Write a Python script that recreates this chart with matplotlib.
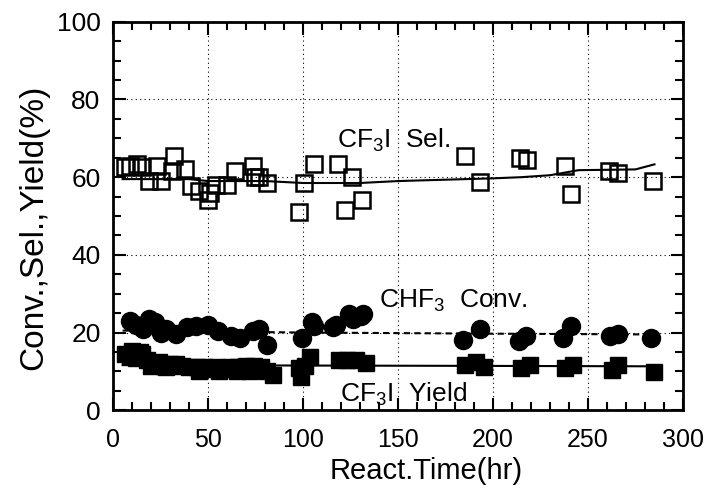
import matplotlib
matplotlib.use("Agg")
import matplotlib.pyplot as plt
from matplotlib.ticker import MultipleLocator

plt.rcParams['font.family'] = ['Liberation Sans', 'DejaVu Sans']
plt.rcParams['mathtext.fontset'] = 'custom'
plt.rcParams['mathtext.rm'] = 'Liberation Sans'
plt.rcParams['mathtext.it'] = 'Liberation Sans'

# CF3I selectivity (open squares)
sel_t = [6, 9, 12.4, 15, 19, 23, 25, 31, 32, 38, 41, 45, 50, 51, 54, 60, 64, 73.5, 74.5, 77, 81,
         98, 100.5, 105.6, 118.6, 122, 126, 131, 185, 193, 214, 218, 238, 241, 261, 266, 284]
sel_v = [62.5, 63, 63.4, 62.5, 59, 63, 59, 61.5, 65.5, 62, 57.7, 56.5, 54, 56, 58, 58, 61.5, 63, 60, 60, 58.5,
         51, 58.5, 63.5, 63.5, 51.5, 60, 54, 65.5, 58.7, 65, 64.5, 63, 55.6, 61.5, 61, 59]
sel_line_t = [5, 40, 50, 80, 100, 130, 150, 200, 215, 230, 245, 275, 285]
sel_line_v = [59.5, 59.5, 59, 59, 58.5, 58.5, 59, 59.7, 60, 60.5, 61.8, 62, 63.3]

# CHF3 conversion (filled circles)
conv_t = [8.8, 12, 15.5, 19, 22, 25, 28, 33, 39, 43.5, 50, 55, 62, 67, 73.5, 77, 81,
          99.5, 104.7, 105.7, 116, 117.6, 124, 126.4, 130.6, 131.6,
          184, 193, 213.5, 217.6, 237, 241, 261.7, 266, 283.4]
conv_v = [22.9, 22, 20.8, 23.4, 22.6, 20, 21, 19.5, 21.3, 21.6, 22, 20.3, 19, 18.7, 20.3, 21, 16.9,
          18.7, 22.6, 21.6, 21.3, 22, 24.7, 23.4, 24.2, 24.7,
          18, 20.8, 17.7, 19, 18.7, 21.6, 19, 19.5, 18.7]
conv_line_t = [5, 100, 200, 285]
conv_line_v = [20.5, 20, 19.7, 19.5]

# CF3I yield (filled squares)
yld_t = [6, 9, 10, 12, 14, 15, 18, 20, 21, 24, 27, 28, 30, 33, 36, 40, 44, 45, 48, 51, 54, 56, 58, 62,
         65, 66, 70, 72, 74, 78, 81, 84,
         98, 99, 101, 103.6, 119, 123, 128, 133, 185, 191, 195,
         214.5, 219.7, 238, 242, 262.7, 266, 285]
yld_v = [14.5, 14, 15.3, 13.5, 15, 14.5, 13, 11.5, 12, 12.5, 11.5, 11, 12, 12, 11.5, 11, 11, 10, 11, 10.5, 11, 10, 10.5, 11,
         10, 11, 11.5, 10, 11.5, 11, 10, 9,
         10.9, 8.6, 11.5, 13.8, 13, 13, 13, 12.2, 11.7, 12.5, 11.2,
         10.9, 11.7, 10.9, 11.7, 10.4, 11.7, 9.9]
yld_line_t = [5, 100, 200, 285]
yld_line_v = [11.6, 11.5, 11.4, 11.3]

fig = plt.figure(figsize=(7.07, 4.96), dpi=100)
ax = fig.add_axes([0.160, 0.173, 0.806, 0.783])

ax.plot(sel_line_t, sel_line_v, color='black', lw=1.5, zorder=2)
ax.plot(conv_line_t, conv_line_v, color='black', lw=1.5, ls=(0, (3, 2)), zorder=2)
ax.plot(yld_line_t, yld_line_v, color='black', lw=1.5, zorder=2)

ax.plot(sel_t, sel_v, ls='none', marker='s', ms=12, mfc='none', mec='black', mew=1.8, zorder=3)
ax.plot(conv_t, conv_v, ls='none', marker='o', ms=13, mfc='black', mec='black', zorder=3)
ax.plot(yld_t, yld_v, ls='none', marker='s', ms=12, mfc='black', mec='black', zorder=3)

ax.set_xlim(0, 300)
ax.set_ylim(0, 100)
ax.xaxis.set_major_locator(MultipleLocator(50))
ax.xaxis.set_minor_locator(MultipleLocator(10))
ax.yaxis.set_major_locator(MultipleLocator(20))
ax.yaxis.set_minor_locator(MultipleLocator(5))
ax.tick_params(which='both', direction='in', top=True, right=True, width=1.5, colors='black')
ax.tick_params(which='major', length=9)
ax.tick_params(axis='x', which='major', pad=13, labelsize=18)
ax.tick_params(axis='y', which='major', pad=9, labelsize=19)
ax.tick_params(which='minor', length=6)
ax.grid(True, which='major', color='black', ls=(0, (1, 3)), lw=0.8)
for s in ax.spines.values():
    s.set_linewidth(2)

ax.set_xlabel('React.Time(hr)', fontsize=21)
ax.set_ylabel('Conv.,Sel.,Yield(%)', fontsize=24)
ax.xaxis.set_label_coords(0.55, -0.12)
ax.yaxis.set_label_coords(-0.112, 0.47)

ax.text(118, 67.5, r'CF$_3$I  Sel.', fontsize=19, va='baseline', ha='left')
ax.text(140, 26.3, r'CHF$_3$  Conv.', fontsize=19, va='baseline', ha='left')
ax.text(119.6, 2.1, r'CF$_3$I  Yield', fontsize=19, va='baseline', ha='left')

fig.savefig('out.png', dpi=100)
